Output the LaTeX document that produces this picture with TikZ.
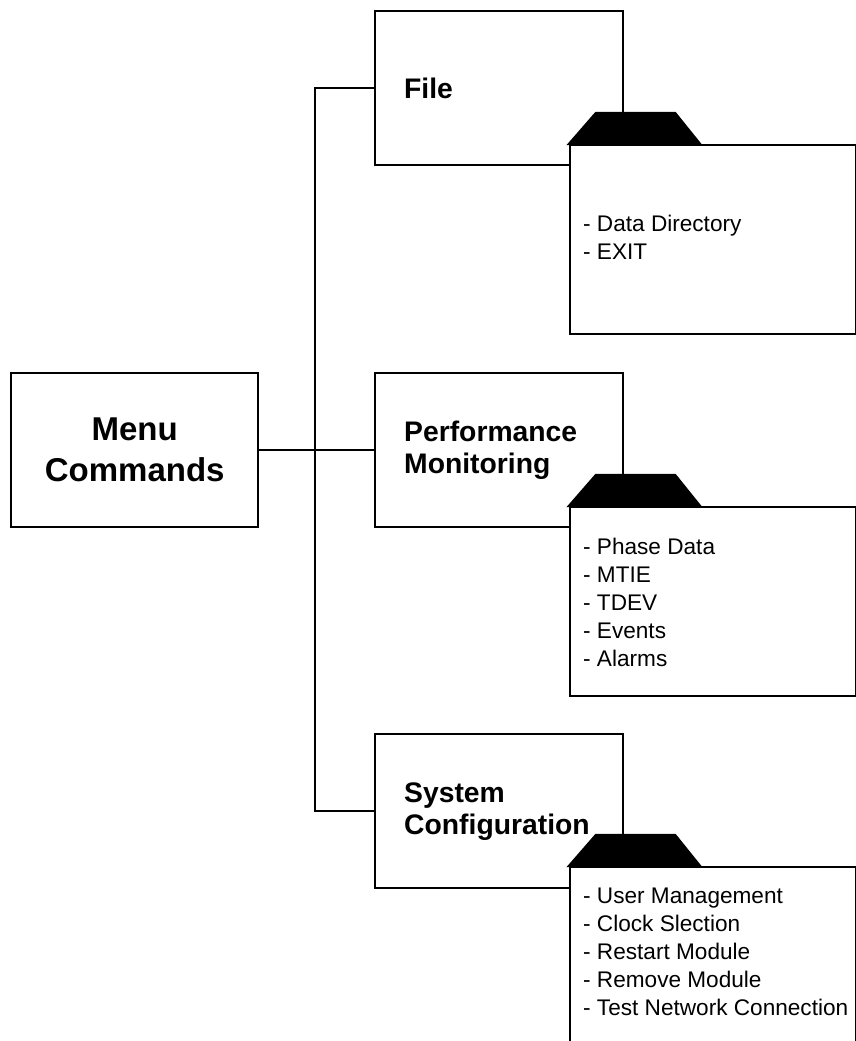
\documentclass[tikz,border=0pt]{standalone}
\usepackage{fontspec}
\setmainfont{Liberation Sans}
\usetikzlibrary{positioning}

\begin{document}
\begin{tikzpicture}[x=1pt,y=-1pt,line width=2.4pt,
    menubox/.style={draw,fill=white,minimum width=247pt,minimum height=154pt,
        align=center,font=\fontsize{33}{41}\selectfont\bfseries},
    groupbox/.style={draw,fill=white,text width=190pt,inner xsep=29pt,
        minimum height=154pt,align=left,font=\fontsize{28.3}{32}\selectfont\bfseries},
    folder/.style={draw,fill=white,minimum width=286pt,minimum height=189pt},
    itemlist/.style={inner sep=0pt,align=left,font=\fontsize{22.6}{28}\selectfont}]
    \useasboundingbox (0,0) rectangle (856,1041);
    \clip (0,0) rectangle (856,1041);

    % root and the three menus
    \node[menubox,anchor=north west] (menu) at (10,372) {Menu\\Commands};
    \node[groupbox,anchor=north west] (file) at (374,10) {File};
    \node[groupbox,anchor=north west] (perf) at (374,372) {Performance\\Monitoring};
    \node[groupbox,anchor=north west] (sys) at (374,733) {System\\Configuration};

    \coordinate (hub) at (315,449);
    \draw (menu.east) -- (perf.west);
    \draw (file.west) -| (hub) |- (sys.west);

    % folders with the commands
    \node[folder,anchor=north west] (dirA) at (569,144) {};
    \node[folder,anchor=north west] (dirB) at (569,506) {};
    \node[folder,anchor=north west] (dirC) at (569,866) {};
    \foreach \d in {dirA,dirB,dirC}
        \filldraw (\d.north west) -- ++(27,-31) -- ++(79,0) -- ++(25,31) -- cycle;

    \node[itemlist,below right=70pt and 13pt of dirA.north west,anchor=north west] (listA)
        {- Data Directory\\- EXIT};
    \node[itemlist,below right=31pt and 13pt of dirB.north west,anchor=north west] (listB)
        {- Phase Data\\- MTIE\\- TDEV\\- Events\\- Alarms};
    \node[itemlist,below right=21pt and 13pt of dirC.north west,anchor=north west] (listC)
        {- User Management\\- Clock Slection\\- Restart Module\\- Remove Module\\- Test Network Connection};
\end{tikzpicture}
\end{document}
